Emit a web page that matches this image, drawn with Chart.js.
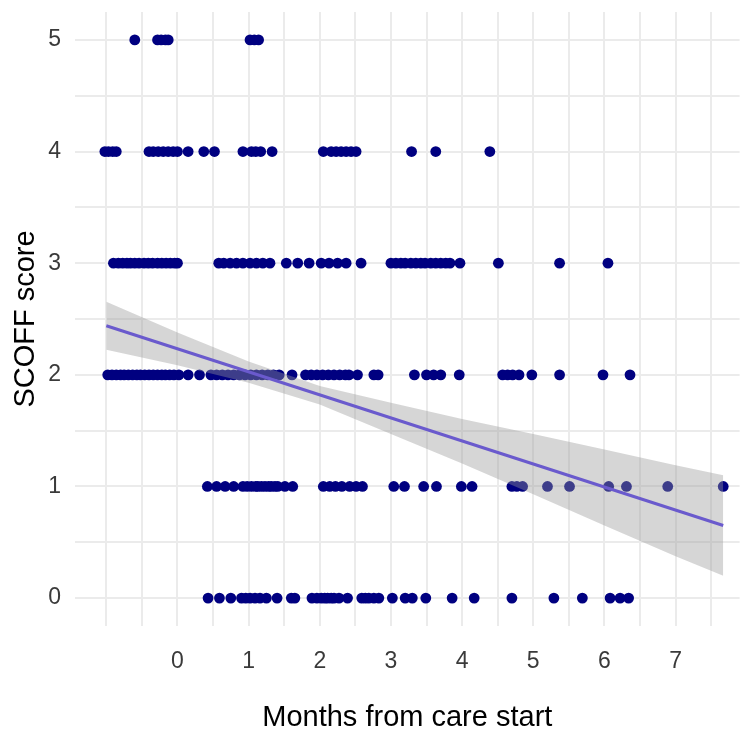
<!DOCTYPE html>
<html>
<head>
<meta charset="utf-8">
<script src="https://cdn.jsdelivr.net/npm/chart.js@4/dist/chart.umd.min.js"></script>
<style>
  html, body { margin: 0; padding: 0; background: #fff; }
</style>
</head>
<body>
<canvas id="scoffChart" width="745" height="731"></canvas>
<script>
// months from care start, one array per SCOFF score
var score5 = [-0.60, -0.28, -0.23, -0.17, -0.13, 1.02, 1.08, 1.14];
var score4 = [-1.02, -0.97, -0.91, -0.86, -0.40, -0.34, -0.27, -0.20, -0.13, -0.06, 0.0,
  0.15, 0.37, 0.52, 0.92, 1.04, 1.10, 1.17, 1.33, 2.05, 2.16, 2.23, 2.30, 2.37, 2.44, 2.51,
  3.29, 3.63, 4.39];
var score3 = [-0.90, -0.83, -0.77, -0.71, -0.66, -0.60, -0.54, -0.47, -0.41, -0.35, -0.28,
  -0.22, -0.16, -0.10, -0.04, 0.0, 0.58, 0.65, 0.74, 0.83, 0.92, 1.02, 1.11, 1.20, 1.30,
  1.53, 1.69, 1.85, 2.02, 2.13, 2.25, 2.37, 2.58, 3.0, 3.07, 3.14, 3.20, 3.28, 3.35, 3.42,
  3.48, 3.56, 3.63, 3.70, 3.77, 3.83, 3.97, 4.51, 5.37, 6.05];
var score2 = [-0.98, -0.92, -0.86, -0.80, -0.75, -0.69, -0.63, -0.57, -0.52, -0.46, -0.40,
  -0.34, -0.28, -0.22, -0.17, -0.11, -0.05, 0.02, 0.15, 0.31, 0.47, 0.55, 0.63, 0.71, 0.79,
  0.87, 0.95, 1.03, 1.11, 1.19, 1.27, 1.35, 1.43, 1.61, 1.80, 1.88, 1.96, 2.04, 2.12, 2.20,
  2.28, 2.36, 2.41, 2.53, 2.76, 2.82, 3.33, 3.50, 3.60, 3.70, 3.96, 4.57, 4.64, 4.71, 4.80,
  4.98, 5.37, 5.98, 6.36];
var score1 = [0.42, 0.55, 0.67, 0.79, 0.92, 0.98, 1.04, 1.10, 1.13, 1.18, 1.23, 1.28, 1.32,
  1.37, 1.41, 1.51, 1.62, 2.05, 2.14, 2.22, 2.31, 2.42, 2.51, 2.60, 3.04, 3.19, 3.46, 3.64,
  3.99, 4.14, 4.70, 4.77, 4.85, 5.20, 5.51, 6.06, 6.31, 6.89, 7.67];
var score0 = [0.43, 0.59, 0.75, 0.90, 0.96, 1.02, 1.09, 1.16, 1.25, 1.40, 1.60, 1.65, 1.89,
  1.96, 2.02, 2.07, 2.11, 2.16, 2.20, 2.27, 2.39, 2.59, 2.64, 2.69, 2.76, 2.83, 3.02, 3.20,
  3.30, 3.49, 3.86, 4.17, 4.70, 5.29, 5.69, 6.08, 6.22, 6.34];

// linear fit and its confidence band
var fitX = [-1.0, 7.67];
var fitY = [2.44, 0.65];
var bandX = [-1.0, 0, 1, 2, 3, 4, 5, 6, 7, 7.67];
var bandUpper = [2.655, 2.38, 2.12, 1.90, 1.75, 1.605, 1.47, 1.33, 1.19, 1.10];
var bandLower = [2.225, 2.085, 1.93, 1.735, 1.47, 1.205, 0.93, 0.65, 0.375, 0.20];

// axis breaks
var xGrid = [-1, -0.5, 0, 0.5, 1, 1.5, 2, 2.5, 3, 3.5, 4, 4.5, 5, 5.5, 6, 6.5, 7, 7.5];
var xLabels = [0, 1, 2, 3, 4, 5, 6, 7];
var yGrid = [0, 0.5, 1, 1.5, 2, 2.5, 3, 3.5, 4, 4.5, 5];
var yLabels = [0, 1, 2, 3, 4, 5];

var rows = [score0, score1, score2, score3, score4, score5];
var points = [];
rows.forEach(function (months, score) {
  months.forEach(function (m) { points.push({ x: m, y: score }); });
});

function pairs(xs, ys) {
  return xs.map(function (x, i) { return { x: x, y: ys[i] }; });
}

var font = "'Liberation Sans', Arial, sans-serif";

var ctx = document.getElementById('scoffChart').getContext('2d');
var scoffChart = new Chart(ctx, {
  type: 'scatter',
  data: {
    datasets: [{
      label: 'fit',
      data: pairs(fitX, fitY),
      showLine: true,
      borderColor: '#6a5acd',
      borderWidth: 3,
      pointRadius: 0,
      order: 0
    }, {
      label: 'upper',
      data: pairs(bandX, bandUpper),
      showLine: true,
      borderWidth: 0,
      borderColor: 'rgba(0,0,0,0)',
      backgroundColor: 'rgba(153,153,153,0.4)',
      fill: '+1',
      pointRadius: 0,
      order: 1
    }, {
      label: 'lower',
      data: pairs(bandX, bandLower),
      showLine: true,
      borderWidth: 0,
      borderColor: 'rgba(0,0,0,0)',
      pointRadius: 0,
      order: 2
    }, {
      label: 'SCOFF',
      data: points,
      backgroundColor: '#000080',
      borderWidth: 0,
      pointRadius: 5.4,
      order: 3
    }]
  },
  options: {
    responsive: false,
    animation: false,
    devicePixelRatio: 1,
    layout: { padding: { top: 12, right: 0, bottom: 0, left: 0 } },
    plugins: {
      legend: { display: false },
      tooltip: { enabled: false }
    },
    scales: {
      x: {
        type: 'linear',
        min: -1.44,
        max: 7.90,
        afterBuildTicks: function (s) { s.ticks = xGrid.map(function (v) { return { value: v }; }); },
        afterFit: function (s) { s.height = 105; s.paddingLeft = 0; s.paddingRight = 0; },
        grid: { color: '#ebebeb', lineWidth: 2, drawTicks: false },
        border: { display: false },
        ticks: {
          autoSkip: false,
          maxRotation: 0,
          padding: 22,
          color: '#3a3a3a',
          font: { family: font, size: 23 },
          callback: function (v) { return xLabels.indexOf(v) >= 0 ? String(v) : ''; }
        },
        title: {
          display: true,
          text: 'Months from care start',
          color: '#000',
          padding: 0,
          font: { family: font, size: 29, lineHeight: 0.9 }
        }
      },
      y: {
        type: 'linear',
        min: -0.25,
        max: 5.25,
        afterBuildTicks: function (s) { s.ticks = yGrid.map(function (v) { return { value: v }; }); },
        afterFit: function (s) { s.width = 75; s.paddingTop = 0; s.paddingBottom = 0; },
        grid: { color: '#ebebeb', lineWidth: 2, drawTicks: false },
        border: { display: false },
        ticks: {
          autoSkip: false,
          padding: 14,
          color: '#3a3a3a',
          font: { family: font, size: 23 },
          callback: function (v) { return yLabels.indexOf(v) >= 0 ? String(v) : ''; }
        },
        title: {
          display: true,
          text: 'SCOFF score',
          color: '#000',
          padding: { top: 13, bottom: 0 },
          font: { family: font, size: 29, lineHeight: 0.9 }
        }
      }
    }
  }
});
</script>
</body>
</html>
